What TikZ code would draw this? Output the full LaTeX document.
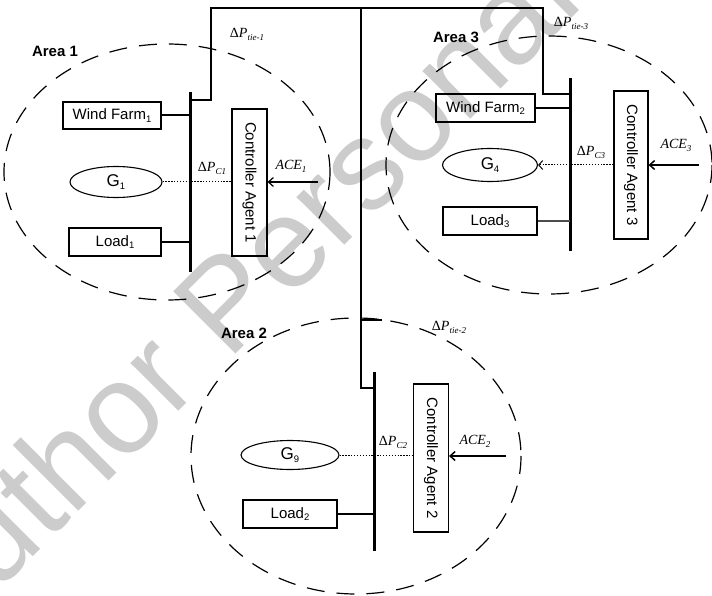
\documentclass[tikz,border=0pt]{standalone}
\usepackage{fontspec}
\setmainfont{Liberation Serif}
\newfontfamily\arialf{Liberation Sans}
\usetikzlibrary{shapes.geometric,arrows.meta}
\newcommand\sbs[1]{\raisebox{-0.35ex}{\fontsize{9.5}{10}\selectfont #1}}
\newcommand\dP[1]{{\upshape Δ}\textit{P}\raisebox{-0.45ex}{\fontsize{9}{10}\selectfont\itshape #1}}
\newcommand\aceL[1]{\textit{ACE}\raisebox{-0.45ex}{\fontsize{9}{10}\selectfont\itshape #1}}
\begin{document}
\begin{tikzpicture}[x=1pt,y=-1pt,
  area/.style={draw, dash pattern=on 18pt off 12pt, line width=1.2pt},
  box/.style={draw, line width=1.1pt, inner sep=0pt, font=\arialf\fontsize{15}{16}\selectfont},
  gen/.style={draw, ellipse, line width=1.1pt, inner sep=0pt, font=\arialf\fontsize{17}{18}\selectfont},
  busbar/.style={line width=3pt},
  tie/.style={line width=1.6pt},
  feed/.style={line width=1.6pt},
  sig/.style={line width=1pt, dash pattern=on 1.3pt off 1.6pt},
  acearrow/.style={line width=1.5pt, -{Straight Barb[length=5pt,width=9pt]}},
  arealbl/.style={font=\arialf\bfseries\fontsize{15}{16}\selectfont},
  mlbl/.style={font=\fontsize{14}{15}\selectfont, inner sep=0pt},
  wmark/.style={font=\arialf\fontsize{128}{130}\selectfont, text=black!20, rotate=45, anchor=base, inner sep=0pt}
]
\fill[white] (0,0) rectangle (712,596);
\useasboundingbox (0,0) rectangle (712,596);

% watermark
\node[wmark] (wm) at (261,329) {Author Personal};

% area ellipses
\draw[area] (167,172) ellipse [x radius=163, y radius=128];
\draw[area] (549,165) ellipse [x radius=163, y radius=129];
\draw[area] (356,456) ellipse [x radius=165, y radius=138];

% area labels
\node[arealbl] (a1) at (55,51) {Area 1};
\node[arealbl] (a3) at (456,37) {Area 3};
\node[arealbl] (a2) at (244,333) {Area 2};

% bus bars
\coordinate (b1t) at (190,92);  \coordinate (b1b) at (190,272);
\coordinate (b3t) at (570,78);  \coordinate (b3b) at (570,251);
\coordinate (b2t) at (374,372); \coordinate (b2b) at (374,551);
\draw[busbar] (b1t) -- (b1b);
\draw[busbar] (b3t) -- (b3b);
\draw[busbar] (b2t) -- (b2b);

% tie lines
\coordinate (tl) at (211,8);
\coordinate (tm) at (361,8);
\coordinate (tr) at (543,8);
\coordinate (j1) at (190,100);
\coordinate (j3) at (570,94);
\coordinate (j2) at (374,388);
\coordinate (tk) at (382,320);
\draw[tie] (j1) -| (tl) -- (tr) |- (j3);
\draw[tie] (tm) |- (j2);
\draw[tie] (tk -| tm) -- (tk);

\node[mlbl] (pt1) at (247,34) {\dP{tie-1}};
\node[mlbl] (pt3) at (571,23) {\dP{tie-3}};
\node[mlbl] (pt2) at (449,327) {\dP{tie-2}};

% Area 1
\node[box, minimum width=98pt, minimum height=27pt] (wf1) at (112,115.5) {Wind Farm\sbs{1}};
\node[gen, minimum width=92pt, minimum height=31pt] (g1) at (116,182) {G\sbs{1}};
\node[box, minimum width=92pt, minimum height=28pt] (ld1) at (115,242) {Load\sbs{1}};
\node[box, minimum width=35pt, minimum height=147pt] (ca1) at (249.5,182.5) {\rotatebox{-90}{Controller Agent 1}};
\draw[feed, line width=2pt] (wf1.east) -- (wf1.east -| b1t);
\draw[feed] (ld1.east) -- (ld1.east -| b1t);
\draw[sig] (g1.east) -- (g1.east -| ca1.west);
\coordinate (ace1s) at (318,182);
\draw[acearrow, line width=1.2pt] (ace1s) -- (ace1s -| ca1.east);
\node[mlbl] (pc1) at (212,168) {\dP{C1}};
\node[mlbl] (ac1) at (291,166) {\aceL{1}};

% Area 3
\node[box, minimum width=99pt, minimum height=28pt] (wf2) at (485.5,108) {Wind Farm\sbs{2}};
\node[gen, minimum width=95pt, minimum height=33pt] (g4) at (490,165) {G\sbs{4}};
\node[box, minimum width=94pt, minimum height=28pt] (ld3) at (490,221) {Load\sbs{3}};
\node[box, minimum width=34pt, minimum height=148pt] (ca3) at (631,165) {\rotatebox{-90}{Controller Agent 3}};
\draw[feed] (wf2.east) -- (wf2.east -| b3t);
\draw[feed, line width=1.2pt, black!70] (ld3.east) -- (ld3.east -| b3t);
\draw[sig, -{Straight Barb[length=4pt,width=9pt]}] (g4.east -| ca3.west) -- (g4.east);
\coordinate (ace3s) at (699,165);
\draw[acearrow] (ace3s) -- (ace3s -| ca3.east);
\node[mlbl] (pc3) at (591,152) {\dP{C3}};
\node[mlbl] (ac3) at (676,145) {\aceL{3}};

% Area 2
\node[gen, minimum width=98pt, minimum height=29pt] (g9) at (290,455) {G\sbs{9}};
\node[box, minimum width=94pt, minimum height=28pt] (ld2) at (290,514) {Load\sbs{2}};
\node[box, minimum width=35pt, minimum height=148pt] (ca2) at (431,458) {\rotatebox{-90}{Controller Agent 2}};
\draw[feed] (ld2.east) -- (ld2.east -| b2t);
\draw[sig, line width=0.8pt] (g9.east) -- (g9.east -| ca2.west);
\coordinate (ace2s) at (506,456);
\draw[acearrow] (ace2s) -- (ace2s -| ca2.east);
\node[mlbl] (pc2) at (393,442) {\dP{C2}};
\node[mlbl] (ac2) at (475,441) {\aceL{2}};
\end{tikzpicture}
\end{document}
